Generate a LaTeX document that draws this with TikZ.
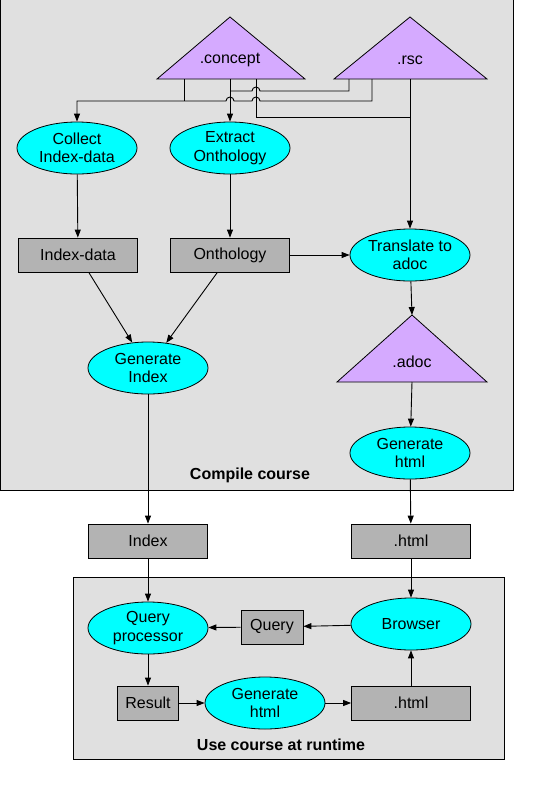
\documentclass[tikz,border=0pt]{standalone}
\usepackage{fontspec}
\setmainfont{Liberation Sans}
\usetikzlibrary{arrows.meta,shapes.geometric}
\definecolor{bggray}{RGB}{224,224,224}
\definecolor{boxgray}{RGB}{179,179,179}
\definecolor{filepurple}{RGB}{213,170,255}
\definecolor{procfill}{RGB}{0,255,255}
\begin{document}
\begin{tikzpicture}[x=1pt,y=1pt,font=\fontsize{16}{18.5}\selectfont,
  proc/.style={ellipse,draw,fill=procfill,line width=0.8pt,minimum width=120pt,minimum height=52pt,inner sep=0pt,align=center},
  data/.style={rectangle,draw,fill=boxgray,line width=0.8pt,minimum width=119pt,minimum height=34pt,inner sep=0pt},
  filetri/.style={draw,fill=filepurple,line width=0.8pt},
  flow/.style={line width=0.9pt,-{Triangle[length=8pt,width=6pt]}},
  wire/.style={line width=0.9pt}]
\useasboundingbox (0,0) rectangle (542,-788);
\draw[fill=bggray,line width=0.9pt] (0.5,5) rectangle (513,-490);
\draw[fill=bggray,line width=0.9pt] (73,-577) rectangle (504,-759);
\node[font=\fontsize{16}{18.5}\selectfont\bfseries] (compile) at (250,-475) {Compile course};
\node[font=\fontsize{16}{18.5}\selectfont\bfseries] (runtime) at (281,-745) {Use course at runtime};
% source files
\draw[filetri] (157,-79) -- (230,-17) -- (305,-79) -- cycle;
\node (concept) at (230,-60) {.concept};
\draw[filetri] (334,-79) -- (410,-17) -- (487,-79) -- cycle;
\node (rsc) at (410,-60) {.rsc};
\draw[filetri] (337,-382) -- (412,-315) -- (487,-382) -- cycle;
\node (adoc) at (412,-362) {.adoc};
\coordinate (adoctop) at (412,-315);
\coordinate (adocbase) at (412,-382);
\coordinate (concepta) at (184,-79);
\coordinate (conceptb) at (230,-79);
\coordinate (conceptc) at (256,-79);
\coordinate (rsca) at (349,-79);
\coordinate (rscb) at (372,-79);
\coordinate (rscc) at (410,-79);
% compile steps
\node[proc] (collect) at (77,-148) {Collect\\Index-data};
\node[proc] (extract) at (230,-148) {Extract\\Onthology};
\node[data] (indexdata) at (78,-255) {Index-data};
\node[data] (onthology) at (230,-255) {Onthology};
\node[proc] (translate) at (410,-255) {Translate to\\adoc};
\node[proc] (genindex) at (148,-368) {Generate\\Index};
\node[proc] (genhtml) at (410,-453) {Generate\\html};
\node[data] (index) at (148,-541) {Index};
\node[data] (html) at (411,-541) {.html};
% runtime steps
\node[proc] (queryproc) at (148,-628) {Query\\processor};
\node[data,minimum width=62pt] (query) at (272,-627) {Query};
\node[proc] (browser) at (411,-624) {Browser};
\node[data,minimum width=61pt] (result) at (148,-703) {Result};
\node[proc] (genhtmlrt) at (265,-703) {Generate\\html};
\node[data] (htmlrt) at (411,-703) {.html};
% wiring from the sources
\draw[wire] (concepta) -- (184,-101);
\draw[flow] (rscb) -- (372,-101) -- (260,-101) arc[start angle=0,end angle=180,radius=4]
  -- (234,-101) arc[start angle=0,end angle=180,radius=4] -- (77,-101) -- (collect.north);
\draw[flow] (conceptb) -- (extract.north);
\draw[wire] (rsca) -- (349,-91) -- (260,-91) arc[start angle=0,end angle=180,radius=4] -- (230,-91);
\draw[wire] (conceptc) -- (256,-117) -- (410,-117);
\draw[flow] (rscc) -- (translate.north);
% flow
\draw[flow] (collect) -- (indexdata);
\draw[flow] (extract) -- (onthology);
\draw[flow] (onthology) -- (translate);
\draw[flow] (indexdata) -- (genindex);
\draw[flow] (onthology) -- (genindex);
\draw[flow] (translate) -- (adoctop);
\draw[flow] (adocbase) -- (genhtml);
\draw[flow] (genindex) -- (index);
\draw[flow] (genhtml) -- (html);
\draw[flow] (index) -- (queryproc);
\draw[flow] (html) -- (browser);
\draw[flow] (browser) -- (query);
\draw[flow] (query) -- (queryproc);
\draw[flow] (queryproc) -- (result);
\draw[flow] (result) -- (genhtmlrt);
\draw[flow] (genhtmlrt) -- (htmlrt);
\draw[flow] (htmlrt) -- (browser);
\end{tikzpicture}
\end{document}
